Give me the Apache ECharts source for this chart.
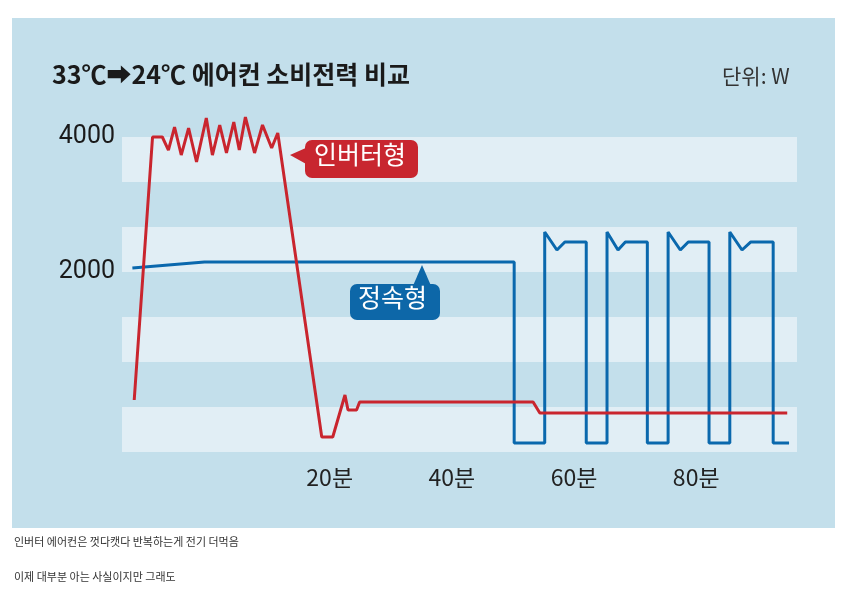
<!DOCTYPE html>
<html>
<head>
<meta charset="utf-8">
<script src="https://cdn.jsdelivr.net/npm/echarts@6/dist/echarts.min.js"></script>
<style>
  body { margin: 0; background: #fff; }
  #main { width: 850px; height: 605px; }
</style>
</head>
<body>
<div id="main"></div>
<script>
// 분 단위 시간, W 단위 소비전력
var inverterData = [
  [-12.0, 104], [-9.0, 4000], [-7.4, 4000], [-6.4, 3807], [-5.4, 4148], [-4.3, 3733],
  [-3.1, 4133], [-1.8, 3630], [-0.2, 4281], [0.8, 3733], [2.0, 4178], [3.1, 3763],
  [4.3, 4222], [5.2, 3807], [6.2, 4296], [7.7, 3763], [9.0, 4178], [10.5, 3837],
  [11.5, 4059], [18.7, -444], [20.5, -444], [22.5, 178], [23.0, -44], [24.4, -44],
  [24.9, 74], [53.3, 74], [54.4, -89], [94.9, -89]
];
var fixedData = [
  [-12.3, 2060], [-0.5, 2148], [50.2, 2148], [50.2, -533], [55.2, -533],
  [55.2, 2593], [57.2, 2326], [58.5, 2444], [62.0, 2444], [62.0, -533], [65.4, -533],
  [65.4, 2593], [67.2, 2326], [68.4, 2444], [72.0, 2444], [72.0, -533], [75.4, -533],
  [75.4, 2593], [77.4, 2326], [78.7, 2444], [82.1, 2444], [82.1, -533], [85.5, -533],
  [85.5, 2593], [87.5, 2326], [88.9, 2444], [92.6, 2444], [92.6, -533], [95.2, -533]
];
var xTicks = [20, 40, 60, 80];
var yTicks = [2000, 4000];

var band = 2000 / 3;
var myChart = echarts.init(document.getElementById('main'));
myChart.setOption({
  animation: false,
  graphic: [
    { type: 'rect', z: -10, shape: { x: 12, y: 18, width: 823, height: 510 }, style: { fill: '#c3dfeb' } },
    { type: 'text', left: 52, top: 62, style: { text: '33℃➡24℃ 에어컨 소비전력 비교', font: 'bold 25px "Noto Sans CJK KR"', fill: '#1a1a1a' } },
    { type: 'text', left: 722, top: 66, style: { text: '단위: W', font: '21px "Noto Sans CJK KR"', fill: '#333' } },
    { type: 'polygon', z: 100, shape: { points: [[290, 155], [308, 147], [308, 165]] }, style: { fill: '#c8262f' } },
    { type: 'rect', z: 100, shape: { x: 305, y: 140, width: 113, height: 38, r: 7 }, style: { fill: '#c8262f' } },
    { type: 'text', z: 101, left: 314, top: 142, style: { text: '인버터형', font: '25px "Noto Sans CJK KR"', fill: '#fff' } },
    { type: 'polygon', z: 100, shape: { points: [[422, 265], [412, 288], [432, 288]] }, style: { fill: '#0d67a8' } },
    { type: 'rect', z: 100, shape: { x: 350, y: 284, width: 90, height: 36, r: 7 }, style: { fill: '#0d67a8' } },
    { type: 'text', z: 101, left: 358, top: 285, style: { text: '정속형', font: '25px "Noto Sans CJK KR"', fill: '#fff' } },
    { type: 'text', left: 14, top: 536, style: { text: '인버터 에어컨은 껏다캣다 반복하는게 전기 더먹음', font: '11px "Noto Sans CJK KR"', fill: '#333' } },
    { type: 'text', left: 14, top: 571, style: { text: '이제 대부분 아는 사실이지만 그래도', font: '11px "Noto Sans CJK KR"', fill: '#333' } }
  ],
  grid: { left: 122, right: 53, top: 92, bottom: 153 },
  xAxis: {
    type: 'value', min: -14, max: 96.5,
    axisLine: { show: false }, axisTick: { show: false }, splitLine: { show: false },
    axisLabel: {
      margin: 14, fontSize: 23, color: '#222', fontFamily: '"Noto Sans CJK KR"',
      customValues: xTicks,
      formatter: function (v) { return v + '분'; }
    }
  },
  yAxis: {
    type: 'value', min: -band, max: band * 7, interval: band,
    axisLine: { show: false }, axisTick: { show: false }, splitLine: { show: false },
    splitArea: { show: true, areaStyle: { color: ['#e1eef5', '#c3dfeb'] } },
    axisLabel: {
      margin: 7, fontSize: 25, color: '#1a1a1a', fontFamily: 'Roboto', verticalAlign: 'middle',
      formatter: function (v) {
        for (var i = 0; i < yTicks.length; i++) if (Math.abs(v - yTicks[i]) < 1) return yTicks[i];
        return '';
      }
    }
  },
  series: [
    { type: 'line', data: fixedData, symbol: 'none', lineStyle: { color: '#0a68ad', width: 3 } },
    { type: 'line', data: inverterData, symbol: 'none', lineStyle: { color: '#c9252e', width: 3 } }
  ]
});
</script>
</body>
</html>
